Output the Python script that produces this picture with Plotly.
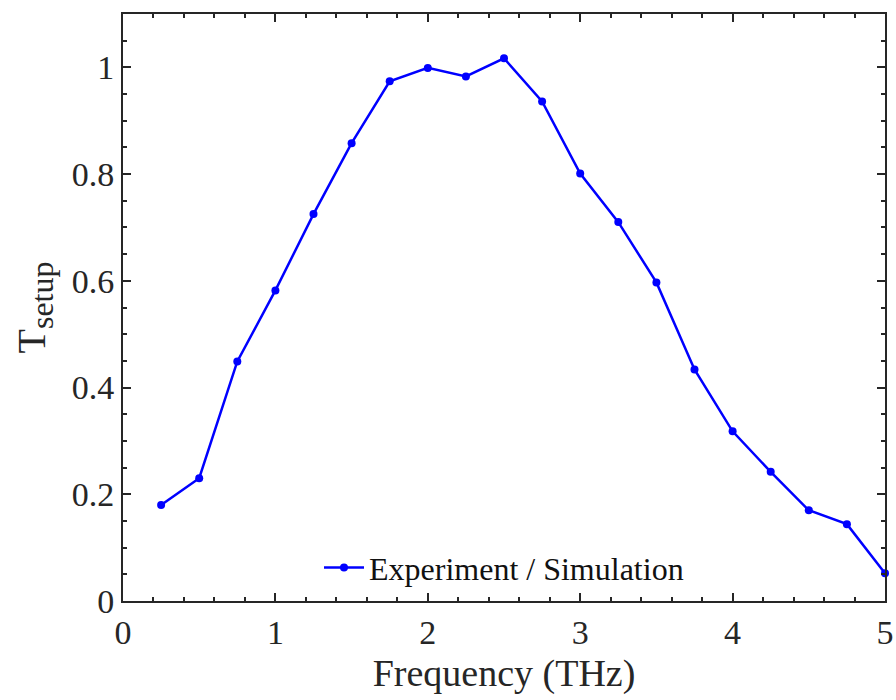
import plotly.graph_objects as go

freq = [0.25, 0.5, 0.75, 1.0, 1.25, 1.5, 1.75, 2.0, 2.25, 2.5, 2.75, 3.0, 3.25, 3.5, 3.75, 4.0, 4.25, 4.5, 4.75, 5.0]
t_setup = [0.180, 0.230, 0.449, 0.582, 0.725, 0.858, 0.974, 0.999, 0.983, 1.017, 0.936, 0.801, 0.710, 0.597, 0.434, 0.318, 0.242, 0.170, 0.144, 0.052]
x_ticks = [0, 1, 2, 3, 4, 5]
y_ticks = [0, 0.2, 0.4, 0.6, 0.8, 1]
y_tick_text = ["0", "0.2", "0.4", "0.6", "0.8", "1"]

FONT = "Liberation Serif, Times New Roman, serif"
AX = "#262626"

fig = go.Figure()
fig.add_trace(go.Scatter(
    x=freq, y=t_setup, mode="lines+markers",
    name="Experiment / Simulation",
    line=dict(color="#0000ff", width=2.5),
    marker=dict(color="#0000ff", size=8),
    cliponaxis=False,
))

axis_common = dict(
    showline=True, linecolor=AX, linewidth=2, mirror="ticks",
    ticks="inside", tickcolor=AX, tickwidth=2, ticklen=8,
    showgrid=False, zeroline=False, automargin=False,
    tickfont=dict(family=FONT, size=34, color="#262626"),
)

fig.update_layout(
    width=896, height=700,
    margin=dict(l=123, r=11, t=14, b=99),
    paper_bgcolor="white", plot_bgcolor="white",
    font=dict(family=FONT, color="#262626"),
    xaxis=dict(
        range=[0, 5], tickvals=x_ticks,
        minor=dict(dtick=0.2, tick0=0, ticks="inside", ticklen=4, tickcolor=AX, tickwidth=2),
        title=dict(text="Frequency (THz)", font=dict(family=FONT, size=38, color="#262626"), standoff=10),
        **axis_common,
    ),
    yaxis=dict(
        range=[0, 1.1], tickvals=y_ticks, ticktext=y_tick_text,
        minor=dict(dtick=0.05, tick0=0, ticks="inside", ticklen=4, tickcolor=AX, tickwidth=2),
        title=dict(text="T<sub><span style='font-size:32px'>setup</span></sub>",
                   font=dict(family=FONT, size=40, color="#262626"), standoff=14),
        **axis_common,
    ),
    showlegend=True,
    legend=dict(
        x=0.5, y=0.01, xanchor="center", yanchor="bottom",
        bgcolor="rgba(0,0,0,0)",
        font=dict(family=FONT, size=32, color="#111111"),
        itemwidth=40,
    ),
)

fig.write_html("out.html")
